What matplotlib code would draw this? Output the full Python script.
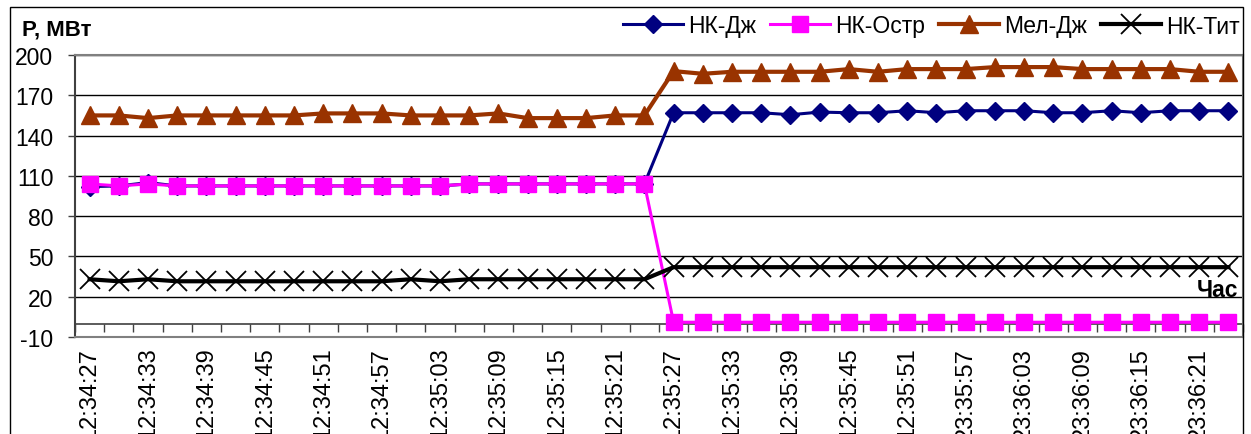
import numpy as np
import matplotlib.pyplot as plt
from matplotlib.patches import Rectangle

plt.rcParams['font.family'] = ['Liberation Sans', 'DejaVu Sans']
plt.rcParams['axes.unicode_minus'] = False

# Power per 3-second sample, MW
nk_dzh = [102, 102.5, 105, 102.5, 102.5, 102.5, 102.5, 102.5, 102.5, 102.5,
          102.5, 102.5, 102.5, 104, 104, 104, 104, 104, 104, 104,
          157, 157, 157, 157, 155.5, 157.5, 157, 157, 158.5, 157,
          158.5, 158.5, 158.5, 157, 157, 158.5, 157, 158.5, 158.5, 158.5]
nk_ostr = [104, 102.5, 104, 102.5, 102.5, 102.5, 102.5, 102.5, 102.5, 102.5,
           102.5, 102.5, 102.5, 104, 104, 104, 104, 104, 104, 104,
           1, 1, 1, 1, 1, 1, 1, 1, 1, 1,
           1, 1, 1, 1, 1, 1, 1, 1, 1, 1]
mel_dzh = [155, 155, 153, 155, 155, 155, 155, 155, 156.5, 156.5,
           156.5, 155, 155, 155, 156.5, 153, 153, 153, 155, 155,
           188, 186, 187.5, 187.5, 187.5, 187.5, 189.5, 187.5, 189.5, 189.5,
           189.5, 191, 191, 191, 189.5, 189.5, 189.5, 189.5, 187.5, 187.5]
nk_tit = [33, 31.5, 33, 31.5, 31.5, 31.5, 31.5, 31.5, 31.5, 31.5,
          31.5, 33, 31.5, 33, 33, 33, 33, 33, 33, 33,
          42, 42, 42, 42, 42, 42, 42, 42, 42, 42,
          42, 42, 42, 42, 42, 42, 42, 42, 42, 42]

# every second sample is labelled
tick_labels = ['12:34:27', '12:34:33', '12:34:39', '12:34:45', '12:34:51',
               '12:34:57', '12:35:03', '12:35:09', '12:35:15', '12:35:21',
               '12:35:27', '12:35:33', '12:35:39', '12:35:45', '12:35:51',
               '23:35:57', '23:36:03', '23:36:09', '23:36:15', '23:36:21']

W, H = 1251, 435
fig = plt.figure(figsize=(W / 100, H / 100), dpi=100)
ax = fig.add_axes([75 / W, (H - 338) / H, (1243 - 75) / W, (338 - 56) / H])

x = np.arange(len(nk_dzh))
ax.plot(x, nk_dzh, color='#000080', lw=2.2, marker='D', ms=9, label='НК-Дж')
ax.plot(x, nk_ostr, color='#FF00FF', lw=2.2, marker='s', ms=11, label='НК-Остр')
ax.plot(x, mel_dzh, color='#993300', lw=3, marker='^', ms=12.5, label='Мел-Дж')
ax.plot(x, nk_tit, color='black', lw=3, marker='x', ms=15, mew=1.3, label='НК-Тит')

ax.set_xlim(-0.5, len(x) - 0.5)
ax.set_ylim(-10, 200)
ax.set_yticks(range(-10, 201, 30))
ax.grid(axis='y', color='black', lw=1)
ax.tick_params(axis='y', length=5, width=1, color='#404040', pad=10.5, labelsize=16.5)

ax.set_xticks(x[::2])
ax.set_xticklabels(tick_labels, rotation=90, fontsize=17)
ax.tick_params(axis='x', length=0, pad=7)

ax.spines['left'].set_color('#404040')
ax.spines['left'].set_linewidth(1.5)
for s in ['top', 'right', 'bottom']:
    ax.spines[s].set_color('#808080')
    ax.spines[s].set_linewidth(1.5)

# category axis crossing at zero
sec = ax.secondary_xaxis(0, transform=ax.transData)
sec.set_xticks(np.arange(len(x) + 1) - 0.5)
sec.tick_params(axis='x', length=6, width=1, color='#404040', labelbottom=False)
sec.spines['bottom'].set_color('#404040')
sec.spines['bottom'].set_linewidth(1.2)

fig.text(22 / W, (H - 30) / H, 'P, МВт', fontsize=16, fontweight='bold', va='center', ha='left')
fig.text(1238 / W, (H - 297) / H, 'Час', fontsize=16.5, fontweight='bold', ha='right', va='baseline')

fig.legend(loc='center right', bbox_to_anchor=(1240 / W, (H - 27) / H), ncol=4,
           frameon=False, fontsize=16.5, handlelength=2.6, handletextpad=0.25,
           columnspacing=0.6, borderaxespad=0, borderpad=0)

fig.add_artist(Rectangle((10 / W, -0.1), (1243 - 10) / W, (H - 8) / H + 0.1,
                         transform=fig.transFigure, fill=False, ec='black', lw=1, clip_on=False))

fig.savefig('out.png', dpi=100)
